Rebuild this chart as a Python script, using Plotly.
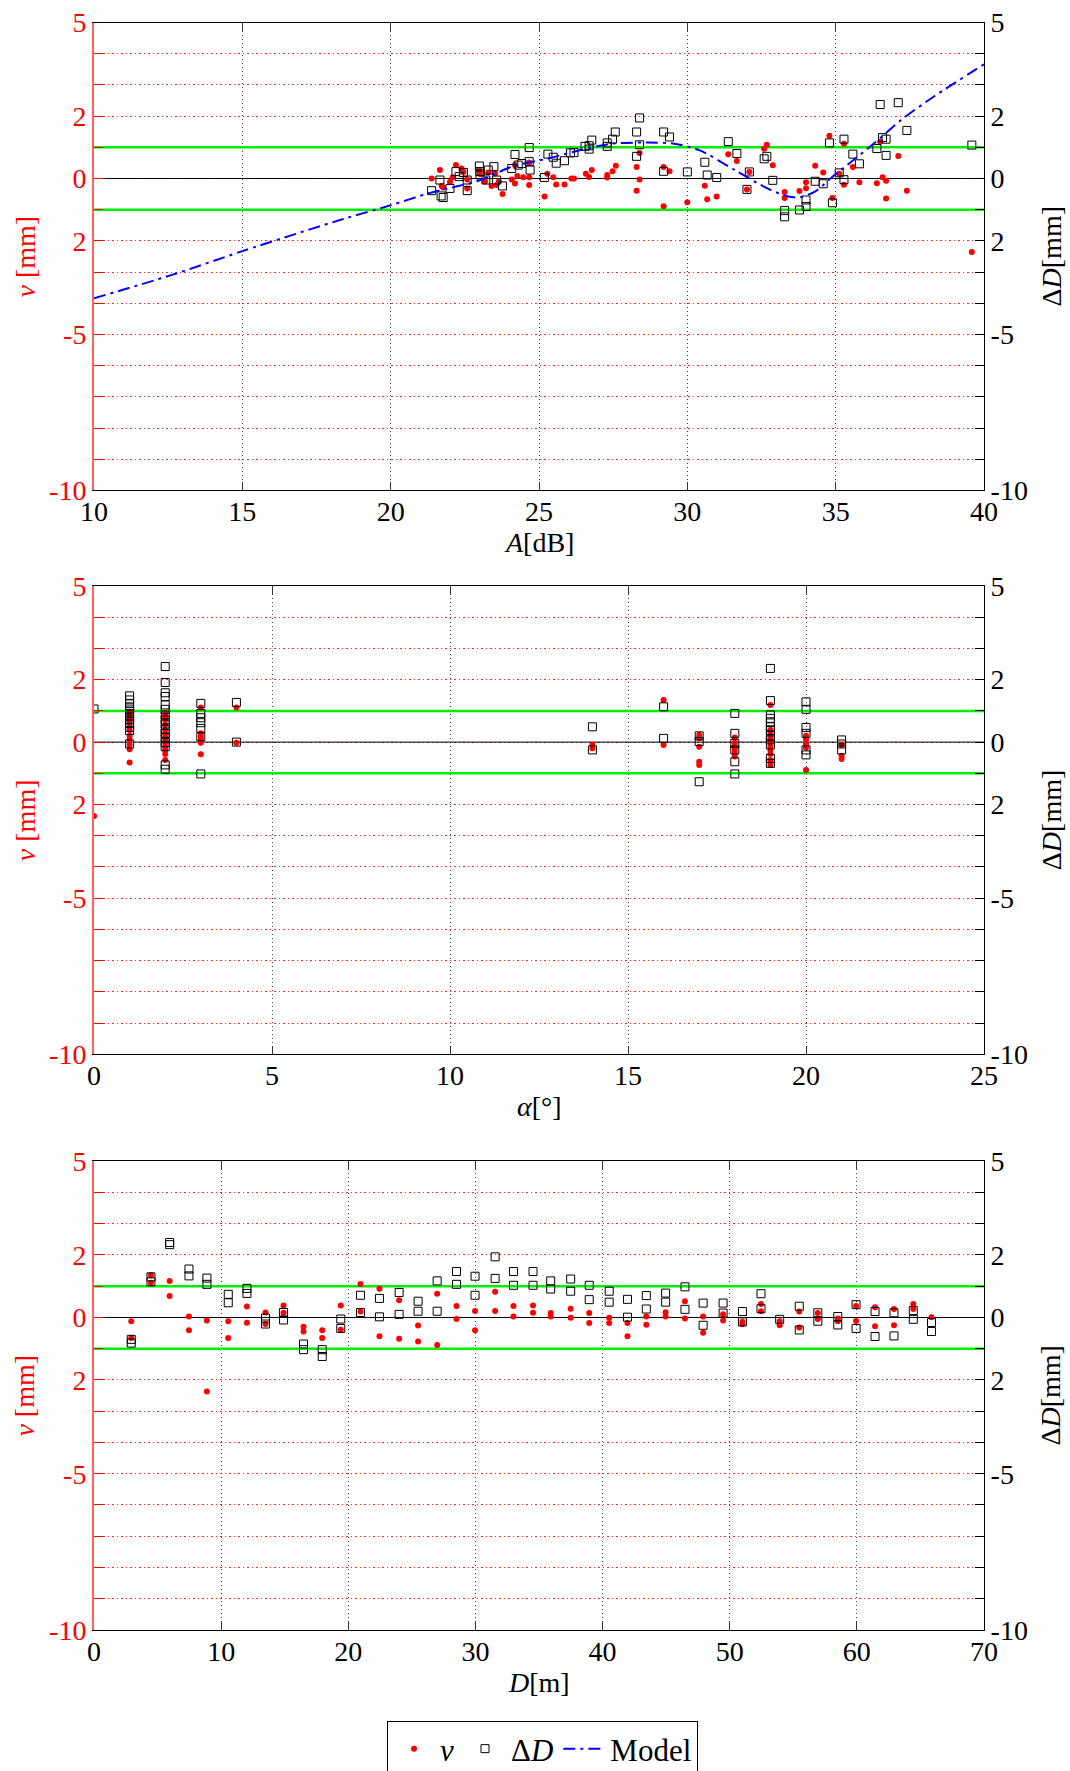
import plotly.graph_objects as go

# ---------------- data ----------------
# Panel 1: residuals vs A [dB]
A_V = [21.38, 21.66, 21.72, 21.77, 22.00, 22.09, 22.20, 22.39, 22.45, 22.58, 22.58, 22.99, 23.01, 23.18,
       23.29, 23.40, 23.52, 23.57, 23.65, 23.77, 24.08, 24.19, 24.19, 24.27, 24.47, 24.67, 24.67, 24.67,
       25.19, 25.28, 25.48, 25.58, 25.86, 26.09, 26.18, 26.58, 26.69, 26.78, 27.30, 27.30, 27.48, 27.59,
       28.29, 28.29, 28.39, 28.39, 29.20, 29.20, 29.40, 30.00, 30.59, 30.67, 30.99, 31.38, 31.67, 32.09,
       32.01, 32.59, 32.68, 32.88, 33.28, 33.28, 33.78, 34.00, 34.00, 34.31, 34.58, 34.79, 34.89, 35.12,
       35.28, 35.28, 35.58, 35.80, 36.39, 36.50, 36.58, 36.70, 36.70, 37.11, 37.40, 39.59]
V_A = [0.00, 0.27, -0.24, -0.29, -0.11, 0.04, 0.43, 0.32, 0.21, -0.32, -0.03, 0.27, 0.14, -0.10,
       0.19, -0.24, 0.16, -0.21, -0.10, -0.50, -0.03, 0.43, -0.16, 0.08, 0.04, 0.51, 0.04, -0.21,
       -0.58, 0.15, 0.04, -0.19, -0.19, 0.00, 0.00, 0.15, 0.05, 0.27, 0.11, 0.03, 0.23, 0.41,
       0.37, -0.39, 0.82, -0.03, 0.37, -0.89, 0.23, -0.76, -0.23, -0.67, -0.58, 0.78, 0.56, 0.21,
       -0.35, 0.95, 1.08, 0.42, -0.43, -0.63, -0.40, -0.12, -0.31, 0.41, 0.19, 1.37, -0.63, 0.15,
       1.11, -0.20, 0.37, -0.12, -0.15, 1.18, 0.04, -0.07, -0.64, 0.72, -0.39, -2.36]
A_DD = [21.38, 21.66, 21.70, 21.77, 22.00, 22.20, 22.31, 22.45, 22.58, 22.58, 22.99, 23.01, 23.01, 23.21,
        23.29, 23.48, 23.57, 23.77, 24.08, 24.19, 24.30, 24.42, 24.67, 24.67, 24.70,
        25.18, 25.30, 25.48, 25.58, 25.86, 26.06, 26.18, 26.55, 26.69, 26.69, 26.78, 27.30, 27.30, 27.48,
        27.57, 28.29, 28.29, 28.39, 28.39, 29.20, 29.20, 29.40, 30.00, 30.59, 30.67, 30.99, 31.38, 31.67,
        32.09, 32.01, 32.59, 32.68, 32.88, 33.28, 33.28, 33.78, 34.00, 34.00, 34.31, 34.58, 34.79, 34.89,
        35.12, 35.28, 35.28, 35.58, 35.80, 36.39, 36.50, 36.58, 36.70, 36.70, 37.11, 37.40, 39.59]
DD_A = [-0.39, -0.05, -0.56, -0.61, -0.32, 0.22, 0.06, 0.19, -0.05, -0.39, 0.40, 0.22, 0.11, -0.05,
        0.27, 0.38, -0.05, -0.24, 0.32, 0.77, 0.43, 0.48, 0.99, 0.54, 0.27,
        0.03, 0.78, 0.68, 0.49, 0.57, 0.82, 0.83, 1.03, 0.94, 1.05, 1.23, 1.14, 1.03, 1.26,
        1.49, 1.49, 0.71, 1.94, 1.08, 1.49, 0.23, 1.33, 0.21, 0.52, 0.11, 0.03, 1.18, 0.80,
        0.21, -0.35, 0.63, 0.71, -0.06, -1.03, -1.23, -1.01, -0.69, -0.90, -0.09, -0.17, 1.14, -0.78,
        0.18, 1.26, -0.04, 0.78, 0.47, 0.96, 2.37, 1.31, 1.26, 0.74, 2.43, 1.54, 1.07]
MODEL_A = [10.0, 12.6, 15.0, 18.4, 20.0, 21.3, 23.0, 24.1, 25.3, 26.4, 27.5, 28.6, 29.5, 30.4,
           31.6, 32.7, 33.4, 33.8, 34.3, 34.9, 35.6, 36.3, 37.2, 38.3, 40.0]
MODEL_DD = [-3.84, -3.10, -2.33, -1.30, -0.86, -0.47, -0.06, 0.38, 0.64, 0.91, 1.12, 1.15, 1.12, 0.91,
            0.27, -0.32, -0.58, -0.60, -0.42, 0.06, 0.59, 1.13, 1.87, 2.62, 3.66]

# Panel 2: residuals vs alpha [deg]
ALPHA_V = [0,
           1, 1, 1, 1, 1, 1, 1, 1, 1, 1, 1,
           2, 2, 2, 2, 2, 2, 2, 2, 2, 2, 2, 2,
           3, 3, 3, 3, 3, 3,
           4, 4,
           14, 14,
           16, 16,
           17, 17, 17, 17, 17,
           18, 18, 18, 18, 18, 18,
           19, 19, 19, 19, 19, 19, 19, 19, 19, 19,
           20, 20, 20, 20, 20,
           21, 21, 21]
V_ALPHA = [-2.37,
           0.97, 0.87, 0.76, 0.65, 0.49, 0.39, 0.20, 0.09, -0.09, -0.23, -0.65,
           0.92, 0.81, 0.71, 0.55, 0.39, 0.26, 0.15, 0.01, -0.13, -0.25, -0.38, -0.57,
           1.11, 0.28, 0.17, 0.09, -0.02, -0.39,
           1.11, -0.02,
           -0.09, -0.20,
           1.35, -0.09,
           0.23, 0.12, -0.15, -0.63, -0.73,
           0.15, -0.02, -0.15, -0.25, -0.36, -0.46,
           1.19, 0.39, 0.23, 0.12, 0.01, -0.15, -0.25, -0.38, -0.57, -0.73,
           0.20, 0.09, -0.06, -0.17, -0.89,
           -0.09, -0.44, -0.54]
ALPHA_DD = [0,
            1, 1, 1, 1, 1, 1, 1, 1, 1, 1, 1, 1,
            2, 2, 2, 2, 2, 2, 2, 2, 2, 2, 2, 2, 2, 2, 2, 2,
            3, 3, 3, 3, 3, 3, 3,
            4, 4,
            14, 14,
            16, 16,
            17, 17, 17,
            18, 18, 18, 18, 18, 18,
            19, 19, 19, 19, 19, 19, 19, 19, 19, 19, 19, 19,
            20, 20, 20, 20, 20, 20,
            21, 21, 21]
DD_ALPHA = [1.06,
            1.48, 1.35, 1.24, 1.13, 1.03, 0.92, 0.81, 0.71, 0.60, 0.47, 0.37, -0.06,
            2.42, 1.91, 1.58, 1.46, 1.19, 1.05, 0.87, 0.71, 0.58, 0.41, 0.28, 0.15, -0.02, -0.15, -0.73, -0.87,
            1.24, 0.92, 0.78, 0.62, 0.44, 0.17, -1.02,
            1.27, 0.00,
            0.49, -0.25,
            1.13, 0.12,
            0.20, 0.02, -1.27,
            0.92, 0.28, -0.04, -0.25, -0.63, -1.02,
            2.36, 1.33, 0.87, 0.76, 0.65, 0.49, 0.37, 0.20, 0.07, -0.09, -0.52, -0.68,
            1.29, 1.05, 0.47, 0.28, -0.25, -0.41,
            0.07, -0.06, -0.25]

# Panel 3: residuals vs D [m]
D_V = [2.93, 2.93, 4.48, 4.48, 5.95, 5.95, 7.47, 7.47, 8.88, 8.88, 10.56, 10.56, 12.03, 12.03,
       13.49, 13.49, 14.91, 14.91, 16.48, 16.48, 17.95, 17.95, 19.41, 19.41, 20.96, 20.96, 22.45, 22.45,
       24.00, 24.00, 25.49, 25.49, 26.99, 26.99, 28.51, 28.51, 29.97, 29.97, 31.55, 31.55, 32.99, 32.99,
       34.53, 34.53, 35.92, 35.92, 37.49, 37.49, 38.95, 38.95, 40.52, 40.52, 41.96, 41.96, 43.44, 43.44,
       44.96, 44.96, 46.48, 46.48, 47.91, 47.91, 49.48, 49.48, 51.00, 51.00, 52.46, 52.46, 53.93, 53.93,
       55.47, 55.47, 56.93, 56.93, 58.50, 58.50, 59.94, 59.94, 61.43, 61.43, 62.92, 62.92, 64.44, 64.44,
       65.87]
V_D = [-0.12, -0.66, 1.35, 1.11, 1.17, 0.69, 0.03, -0.41, -0.10, -2.37, -0.12, -0.66, 0.35, -0.17,
       0.16, -0.21, 0.38, 0.15, -0.30, -0.45, -0.41, -0.66, 0.38, -0.39, 1.07, 0.19, 0.92, -0.60,
       0.55, -0.68, -0.26, -0.77, 0.76, -0.88, 0.37, -0.05, 0.21, -0.41, 0.82, 0.21, 0.37, 0.03,
       0.38, 0.15, 0.14, 0.03, 0.28, -0.01, 0.14, -0.18, -0.01, -0.18, -0.18, -0.60, 0.03, -0.23,
       0.17, 0.03, 0.52, -0.03, 0.03, -0.49, 0.10, -0.10, -0.14, -0.22, 0.43, 0.20, -0.12, -0.25,
       0.19, -0.32, 0.14, -0.05, -0.03, -0.12, 0.37, -0.11, 0.33, -0.28, 0.27, -0.25, 0.43, 0.27,
       0.01]
D_DD = [2.93, 2.93, 4.48, 4.48, 5.95, 5.95, 7.47, 7.47, 8.88, 8.88, 10.56, 10.56, 12.03, 12.03,
        13.49, 13.49, 14.91, 14.91, 16.48, 16.48, 17.95, 17.95, 19.41, 19.41, 20.96, 20.96, 22.45, 22.45,
        24.00, 24.00, 25.49, 25.49, 26.99, 26.99, 28.51, 28.51, 29.97, 29.97, 31.55, 31.55, 32.99, 32.99,
        34.53, 34.53, 35.92, 35.92, 37.49, 37.49, 38.95, 38.95, 40.52, 40.52, 41.96, 41.96, 43.44, 43.44,
        44.96, 44.96, 46.48, 46.48, 47.91, 47.91, 49.48, 49.48, 51.00, 51.00, 52.46, 52.46, 53.93,
        55.47, 55.47, 56.93, 56.93, 58.50, 58.50, 59.94, 59.94, 61.43, 61.43, 62.92, 62.92, 64.44, 64.44,
        65.87, 65.87]
DD_D = [-0.70, -0.82, 1.30, 1.14, 2.40, 2.33, 1.55, 1.33, 1.26, 1.06, 0.74, 0.47, 0.93, 0.77,
        -0.02, -0.21, 0.16, -0.08, -0.85, -1.03, -1.03, -1.25, -0.05, -0.35, 0.71, 0.16, 0.61, 0.02,
        0.80, 0.10, 0.52, 0.20, 1.17, 0.20, 1.47, 1.06, 1.32, 0.71, 1.94, 1.25, 1.47, 1.03,
        1.47, 1.03, 1.17, 0.91, 1.23, 0.84, 1.03, 0.57, 0.84, 0.49, 0.58, 0.01, 0.70, 0.27,
        0.78, 0.49, 0.98, 0.26, 0.46, -0.25, 0.46, 0.14, 0.19, -0.14, 0.76, 0.28, -0.06,
        0.36, -0.40, 0.15, -0.12, 0.03, -0.24, 0.41, -0.35, 0.19, -0.61, 0.15, -0.59, 0.22, -0.06,
        -0.16, -0.45]

# axes / labels
Y_TICK_VALS = [-10, -9, -8, -7, -6, -5, -4, -3, -2, -1, 0, 1, 2, 3, 4, 5]
Y_TICK_TEXT = ['-10', '', '', '', '', '-5', '', '', '2', '', '0', '', '2', '', '', '5']
Y_RANGE = [-10, 5]
ZERO_LEVEL = 0
TOL_LEVELS = [1, -1]
X1_TICKS = [10, 15, 20, 25, 30, 35, 40]
X2_TICKS = [0, 5, 10, 15, 20, 25]
X3_TICKS = [0, 10, 20, 30, 40, 50, 60, 70]
X_TITLES = ['<i>A</i>[dB]', '<i>α</i>[°]', '<i>D</i>[m]']
YL_TITLE = '<i>v</i> [mm]'
YR_TITLE = 'Δ<i>D</i>[mm]'
NAMES = ['<i>v</i>', 'Δ<i>D</i>', 'Model']

# ---------------- layout geometry ----------------
W, H = 1070, 1771
FONT = 'Liberation Serif'
XD = [94 / W, 984 / W]
PANELS_PX = [(22.5, 490.4), (586.0, 1054.3), (1161.2, 1630.0)]
YD = [[1 - b / H, 1 - t / H] for (t, b) in PANELS_PX]

RED = '#ff0000'
fig = go.Figure()

panels = [
    (A_V, V_A, A_DD, DD_A, X1_TICKS),
    (ALPHA_V, V_ALPHA, ALPHA_DD, DD_ALPHA, X2_TICKS),
    (D_V, V_D, D_DD, DD_D, X3_TICKS),
]

layout = dict(width=W, height=H, margin=dict(l=0, r=0, t=0, b=0, autoexpand=False),
              paper_bgcolor='white', plot_bgcolor='white',
              font=dict(family=FONT, size=28, color='black'),
              showlegend=True)

annotations = []
for i, (xv, yv, xd, yd, xt) in enumerate(panels):
    k = i + 1
    xname = 'x' if k == 1 else f'x{k}'
    yl = 'y' if k == 1 else f'y{2 * k - 1}'
    yr = f'y{2 * k}'
    xkey = 'xaxis' if k == 1 else f'xaxis{k}'
    ylkey = 'yaxis' if k == 1 else f'yaxis{2 * k - 1}'
    yrkey = f'yaxis{2 * k}'
    xr = [xt[0], xt[-1]]

    # reference lines (zero and tolerance band) spanning the axis range
    fig.add_trace(go.Scatter(x=xr, y=[ZERO_LEVEL, ZERO_LEVEL], mode='lines', xaxis=xname, yaxis=yl,
                             showlegend=False, hoverinfo='skip',
                             line=dict(color='black', width=1)))
    for lv in TOL_LEVELS:
        fig.add_trace(go.Scatter(x=xr, y=[lv, lv], mode='lines', xaxis=xname, yaxis=yl,
                                 showlegend=False, hoverinfo='skip',
                                 line=dict(color='#00ee00', width=2.5)))

    fig.add_trace(go.Scatter(x=xv, y=yv, mode='markers', name=NAMES[0], xaxis=xname, yaxis=yl,
                             showlegend=(k == 1), legendrank=1,
                             marker=dict(symbol='circle', size=6, color=RED)))
    fig.add_trace(go.Scatter(x=xd, y=yd, mode='markers', name=NAMES[1], xaxis=xname, yaxis=yr,
                             showlegend=(k == 1), legendrank=2,
                             marker=dict(symbol='square-open', size=8, color='black',
                                         line=dict(width=1, color='black'))))
    if k == 1:
        fig.add_trace(go.Scatter(x=MODEL_A, y=MODEL_DD, mode='lines', name=NAMES[2], xaxis=xname,
                                 yaxis=yr, legendrank=3,
                                 line=dict(color='#0000ff', width=2, dash='12px,5px,3px,5px',
                                           shape='spline', smoothing=0.8)))

    layout[xkey] = dict(domain=XD, anchor=yl, range=xr, tickvals=xt, automargin=False,
                        showgrid=True, gridcolor='rgba(40,40,40,0.9)', griddash='1px,3px', gridwidth=1,
                        showline=True, linecolor='black', linewidth=1, mirror='ticks',
                        ticks='inside', ticklen=8, tickcolor='#333333',
                        tickfont=dict(family=FONT, size=28, color='black'),
                        zeroline=False, ticklabelstandoff=-4)
    layout[ylkey] = dict(domain=YD[i], anchor=xname, range=Y_RANGE, tickvals=Y_TICK_VALS,
                         ticktext=Y_TICK_TEXT, ticks='inside', ticklen=9, tickcolor=RED,
                         automargin=False,
                         showgrid=True, gridcolor='rgba(255,0,0,0.85)', griddash='1.5px,3px',
                         gridwidth=1,
                         showline=True, linecolor='rgba(255,80,80,0.9)', linewidth=2,
                         tickfont=dict(family=FONT, size=28, color=RED), zeroline=False,
                         ticklabelstandoff=0)
    layout[yrkey] = dict(overlaying=yl, anchor=xname, side='right', range=Y_RANGE,
                         tickvals=Y_TICK_VALS, ticktext=Y_TICK_TEXT, ticks='inside', ticklen=9,
                         automargin=False,
                         tickcolor='black', showgrid=False, showline=True, linecolor='black',
                         linewidth=1, tickfont=dict(family=FONT, size=28, color='black'),
                         zeroline=False, ticklabelstandoff=0)

    t, b = PANELS_PX[i]
    ymid = 1 - (t + b) / 2 / H
    annotations.append(dict(text=YL_TITLE, xref='paper', yref='paper', x=25 / W, y=ymid,
                            textangle=-90, showarrow=False, xanchor='center', yanchor='middle',
                            font=dict(family=FONT, size=28, color=RED)))
    annotations.append(dict(text=YR_TITLE, xref='paper', yref='paper', x=1051 / W, y=ymid,
                            textangle=-90, showarrow=False, xanchor='center', yanchor='middle',
                            font=dict(family=FONT, size=28, color='black')))
    annotations.append(dict(text=X_TITLES[i], xref='paper', yref='paper', x=539 / W,
                            y=1 - (b + 52) / H, showarrow=False, xanchor='center', yanchor='middle',
                            font=dict(family=FONT, size=28, color='black')))

layout['annotations'] = annotations
layout['legend'] = dict(orientation='h', x=387 / W, y=1 - 1721 / H, xanchor='left', yanchor='top',
                        bordercolor='black', borderwidth=1, bgcolor='white', itemwidth=42,
                        font=dict(family=FONT, size=31, color='black'), traceorder='normal')

fig.update_layout(**layout)
fig.write_html('out.html')
